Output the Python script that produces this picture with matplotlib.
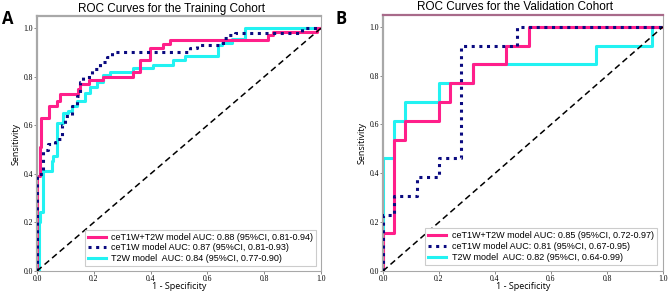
import matplotlib
matplotlib.use("Agg")
from matplotlib import pyplot as plt

# Training cohort ROC (vertices, steps-post)
train_combo_fpr = [0, 0, 0.010, 0.014, 0.042, 0.070, 0.081, 0.144, 0.151, 0.183, 0.232, 0.338, 0.363, 0.398, 0.444, 0.468, 0.813, 0.831, 0.986, 1.0]
train_combo_tpr = [0, 0.39, 0.51, 0.63, 0.68, 0.70, 0.73, 0.75, 0.77, 0.785, 0.80, 0.82, 0.87, 0.92, 0.935, 0.95, 0.97, 0.985, 1.0, 1.0]

train_t1_fpr = [0, 0, 0.021, 0.021, 0.039, 0.063, 0.070, 0.088, 0.099, 0.123, 0.141, 0.151, 0.162, 0.194, 0.222, 0.246, 0.264, 0.539, 0.563, 0.655, 0.673, 0.697, 0.933, 1.0]
train_t1_tpr = [0, 0.40, 0.47, 0.50, 0.525, 0.53, 0.545, 0.60, 0.64, 0.68, 0.72, 0.78, 0.80, 0.83, 0.86, 0.88, 0.90, 0.92, 0.93, 0.96, 0.97, 0.98, 1.0, 1.0]

train_t2_fpr = [0, 0.007, 0.011, 0.021, 0.053, 0.056, 0.072, 0.092, 0.109, 0.123, 0.141, 0.169, 0.187, 0.211, 0.232, 0.257, 0.338, 0.408, 0.479, 0.521, 0.637, 0.651, 0.687, 0.732, 1.0]
train_t2_tpr = [0, 0.20, 0.244, 0.41, 0.455, 0.475, 0.61, 0.65, 0.66, 0.68, 0.70, 0.735, 0.757, 0.777, 0.806, 0.82, 0.835, 0.85, 0.87, 0.885, 0.93, 0.94, 0.955, 1.0, 1.0]

# Validation cohort ROC
val_combo_fpr = [0, 0, 0.04, 0.08, 0.20, 0.24, 0.32, 0.44, 0.52, 1.0]
val_combo_tpr = [0, 0.154, 0.538, 0.615, 0.692, 0.769, 0.846, 0.923, 1.0, 1.0]

val_t1_fpr = [0, 0, 0.04, 0.12, 0.20, 0.28, 0.48, 1.0]
val_t1_tpr = [0, 0.231, 0.308, 0.385, 0.462, 0.923, 1.0, 1.0]

val_t2_fpr = [0, 0, 0.04, 0.08, 0.20, 0.32, 0.76, 0.96, 1.0]
val_t2_tpr = [0, 0.462, 0.615, 0.692, 0.769, 0.846, 0.923, 1.0, 1.0]

train_labels = ['ceT1W+T2W model AUC: 0.88 (95%CI, 0.81-0.94)',
                'ceT1W model AUC: 0.87 (95%CI, 0.81-0.93)',
                'T2W model  AUC: 0.84 (95%CI, 0.77-0.90)']
val_labels = ['ceT1W+T2W model AUC: 0.85 (95%CI, 0.72-0.97)',
              'ceT1W model AUC: 0.81 (95%CI, 0.67-0.95)',
              'T2W model  AUC: 0.82 (95%CI, 0.64-0.99)']

ticks = [0.0, 0.2, 0.4, 0.6, 0.8, 1.0]
pink = '#ff1f8a'
navy = '#0a0a80'
cyan = '#22f2f2'


def dibujar(ax, curvas, labels, titulo, legend_bbox, spine_top):
    (f1, t1), (f2, t2), (f3, t3) = curvas
    ax.plot(f3, t3, drawstyle='steps-post', color=cyan, lw=2.2, label=labels[2], zorder=2)
    ax.plot(f2, t2, drawstyle='steps-post', color=navy, lw=2.2, ls=(0, (1, 1.5)),
            dash_capstyle='butt', label=labels[1], zorder=3)
    ax.plot(f1, t1, drawstyle='steps-post', color=pink, lw=2.2, label=labels[0], zorder=2.5)
    ax.plot([0, 1], [0, 1], color='black', lw=1.1, ls=(0, (4, 2.5)), zorder=4)

    ax.set_xlim(0, 1)
    ax.set_ylim(0, 1.05)
    ax.set_xticks(ticks)
    ax.set_yticks(ticks)
    ax.set_xticklabels(['%.1f' % t for t in ticks], family='Liberation Serif', fontsize=5.5)
    ax.set_yticklabels(['%.1f' % t for t in ticks], family='Liberation Serif', fontsize=5.5)
    ax.tick_params(length=2, width=0.6, color='#777777', pad=1)
    ax.set_xlabel('1 - Specificity', family='Open Sans', fontsize=6.5, labelpad=-1)
    ax.set_ylabel('Sensitivity', family='Open Sans', fontsize=6.5, labelpad=2)
    ax.set_title(titulo, family='Liberation Sans', fontsize=8.5, pad=3, x=0.473)
    for s in ax.spines.values():
        s.set_color('#a8a8a8')
        s.set_linewidth(1.6)
    ax.spines['right'].set_linewidth(0.8)
    ax.spines['bottom'].set_linewidth(0.8)
    ax.spines['top'].set_color(spine_top)

    h, l = ax.get_legend_handles_labels()
    orden = [2, 1, 0]
    leg = ax.legend([h[i] for i in orden], [l[i] for i in orden], loc='lower right',
                    bbox_to_anchor=legend_bbox, prop={'family': 'Liberation Sans', 'size': 6.5},
                    handlelength=2.0, handletextpad=0.6, labelspacing=0.2,
                    borderpad=0.35, fancybox=False, framealpha=1)
    leg.get_frame().set_edgecolor('#cccccc')
    leg.get_frame().set_linewidth(0.8)


fig = plt.figure(figsize=(6.69, 2.92), dpi=100)
axA = fig.add_axes([0.0553, 0.072, 0.4245, 0.873])
axB = fig.add_axes([0.5725, 0.072, 0.4185, 0.878])

dibujar(axA, [(train_combo_fpr, train_combo_tpr), (train_t1_fpr, train_t1_tpr), (train_t2_fpr, train_t2_tpr)],
        train_labels, 'ROC Curves for the Training Cohort', (1.0, 0.0), '#a8a8a8')
dibujar(axB, [(val_combo_fpr, val_combo_tpr), (val_t1_fpr, val_t1_tpr), (val_t2_fpr, val_t2_tpr)],
        val_labels, 'ROC Curves for the Validation Cohort', (0.995, 0.005), '#a86a8a')

fig.text(0.003, 0.965, 'A', family='Open Sans', fontsize=12, fontweight='bold', va='top')
fig.text(0.502, 0.965, 'B', family='Open Sans', fontsize=12, fontweight='bold', va='top')

fig.savefig('out.png', dpi=100)
